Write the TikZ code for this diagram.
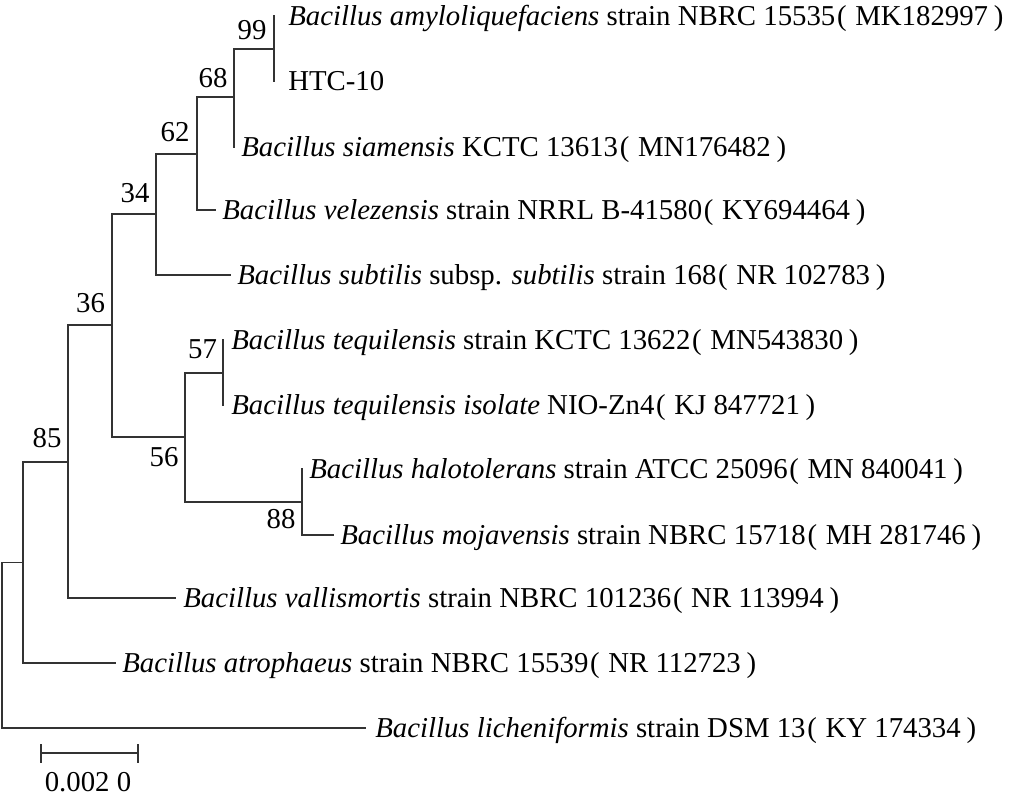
\documentclass[tikz,border=0pt]{standalone}
\usepackage{fontspec}
\setmainfont{Liberation Serif}
\newcommand{\LP}{\hspace{0.06em}(\hspace{0.3em}}
\newcommand{\RP}{\hspace{0.2em})}
\tikzset{
  branch/.style={line width=1.4pt, draw=black!80, line cap=rect},
  leaf/.style={anchor=base west, inner sep=0pt, font=\fontsize{21.6}{24}\selectfont},
  boot/.style={anchor=center, inner sep=0pt, font=\fontsize{21.6}{24}\selectfont},
}
\begin{document}
\begin{tikzpicture}[x=0.75pt,y=-0.75pt]
\useasboundingbox (0,0) rectangle (1018,801);
% internal nodes
\coordinate (root) at (2,645.5);
\coordinate (na) at (23,562.5);
\coordinate (n85) at (68,462);
\coordinate (n36) at (112,325);
\coordinate (n34) at (156,214);
\coordinate (n62) at (197,154);
\coordinate (n68) at (234,97);
\coordinate (n99) at (274,49);
\coordinate (n56) at (185,437);
\coordinate (n57) at (223,373);
\coordinate (n88) at (302,502);
% leaf tips
\coordinate (tamy) at (274,16);
\coordinate (thtc) at (274,81);
\coordinate (tsia) at (234,147);
\coordinate (tvel) at (215,210);
\coordinate (tsub) at (230,275);
\coordinate (tteqa) at (223,340);
\coordinate (tteqb) at (223,405);
\coordinate (thal) at (302,469);
\coordinate (tmoj) at (333,535);
\coordinate (tval) at (175,598);
\coordinate (tatr) at (115,663);
\coordinate (tlic) at (365,728);
% branches
\draw[branch] (root) |- (na);
\draw[branch] (root) |- (tlic);
\draw[branch] (na) |- (n85);
\draw[branch] (na) |- (tatr);
\draw[branch] (n85) |- (n36);
\draw[branch] (n85) |- (tval);
\draw[branch] (n36) |- (n34);
\draw[branch] (n36) |- (n56);
\draw[branch] (n34) |- (n62);
\draw[branch] (n34) |- (tsub);
\draw[branch] (n62) |- (n68);
\draw[branch] (n62) |- (tvel);
\draw[branch] (n68) |- (n99);
\draw[branch] (n68) |- (tsia);
\draw[branch] (n99) |- (tamy);
\draw[branch] (n99) |- (thtc);
\draw[branch] (n56) |- (n57);
\draw[branch] (n56) |- (n88);
\draw[branch] (n57) |- (tteqa);
\draw[branch] (n57) |- (tteqb);
\draw[branch] (n88) |- (thal);
\draw[branch] (n88) |- (tmoj);
% bootstrap values
\node[boot] (b99) at (252,30.5) {99};
\node[boot] (b68) at (213,78) {68};
\node[boot] (b62) at (175,132.5) {62};
\node[boot] (b34) at (135,193) {34};
\node[boot] (b36) at (90.5,303) {36};
\node[boot] (b85) at (47,438) {85};
\node[boot] (b57) at (202.5,349.5) {57};
\node[boot] (b56) at (164,457.5) {56};
\node[boot] (b88) at (281,519.5) {88};
% leaf labels
\node[leaf] (lamy) at (288,25.5) {\textit{Bacillus amyloliquefaciens} strain NBRC 15535\LP MK182997\RP};
\node[leaf] (lhtc) at (288,90.5) {HTC-10};
\node[leaf] (lsia) at (241,156.5) {\textit{Bacillus siamensis} KCTC 13613\LP MN176482\RP};
\node[leaf] (lvel) at (222,219.5) {\textit{Bacillus velezensis} strain NRRL B-41580\LP KY694464\RP};
\node[leaf] (lsub) at (237,284.5) {\textit{Bacillus subtilis} subsp. \textit{subtilis} strain 168\LP NR 102783\RP};
\node[leaf] (lteqa) at (231,349.5) {\textit{Bacillus tequilensis} strain KCTC 13622\LP MN543830\RP};
\node[leaf] (lteqb) at (231,414.5) {\textit{Bacillus tequilensis isolate} NIO-Zn4\LP KJ 847721\RP};
\node[leaf] (lhal) at (309,478.5) {\textit{Bacillus halotolerans} strain ATCC 25096\LP MN 840041\RP};
\node[leaf] (lmoj) at (340,544.5) {\textit{Bacillus mojavensis} strain NBRC 15718\LP MH 281746\RP};
\node[leaf] (lval) at (183,607.5) {\textit{Bacillus vallismortis} strain NBRC 101236\LP NR 113994\RP};
\node[leaf] (latr) at (122,672.5) {\textit{Bacillus atrophaeus} strain NBRC 15539\LP NR 112723\RP};
\node[leaf] (llic) at (375,737.5) {\textit{Bacillus licheniformis} strain DSM 13\LP KY 174334\RP};
% scale bar
\coordinate (sba) at (41,753);
\coordinate (sbb) at (138,753);
\draw[branch] (sba) -- (sbb);
\draw[branch] ([yshift=6pt]sba) -- ([yshift=-6.75pt]sba);
\draw[branch] ([yshift=6pt]sbb) -- ([yshift=-6.75pt]sbb);
\node[boot] (sbl) at (88,782.5) {0.002 0};
\end{tikzpicture}
\end{document}
